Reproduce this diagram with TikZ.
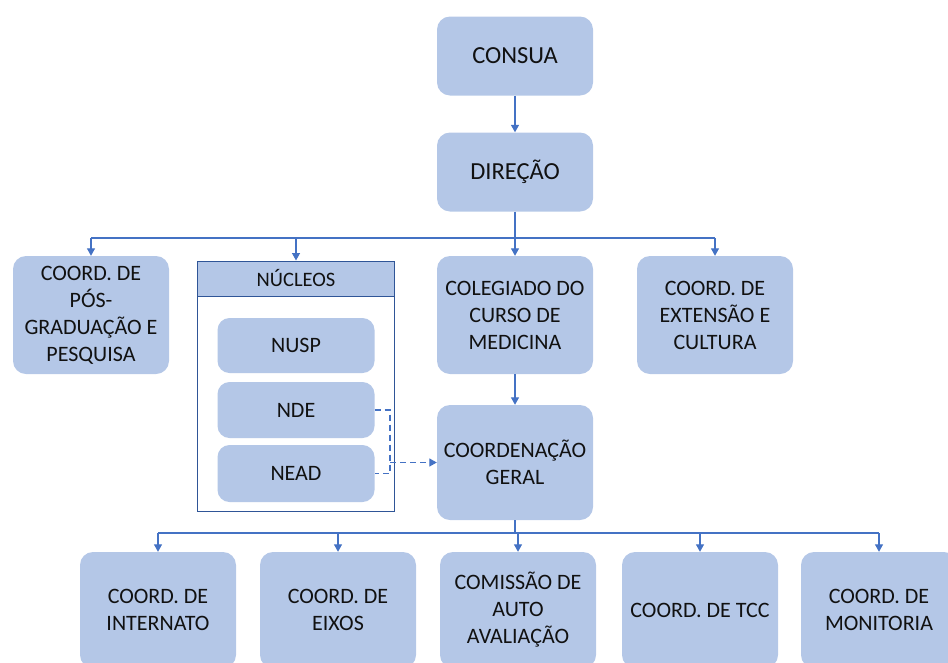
\documentclass[tikz,border=0pt]{standalone}
\usepackage{fontspec}
\setmainfont{Carlito}
\usetikzlibrary{arrows.meta}
\definecolor{boxfill}{HTML}{B4C7E7}
\definecolor{linecol}{HTML}{4472C4}
\definecolor{framecol}{HTML}{2F5597}
\definecolor{txt}{HTML}{111111}
\tikzset{
  orgbox/.style={rectangle, rounded corners=13pt, fill=boxfill, text=txt, align=center,
    inner sep=0pt, font=\fontsize{22}{27}\selectfont},
  link/.style={draw=linecol, line width=1.3pt, -{Triangle[width=8pt,length=7.5pt]}},
  bus/.style={draw=linecol, line width=1.3pt},
  dlink/.style={draw=linecol, line width=1.3pt, dash pattern=on 6pt off 4pt},
}
\begin{document}
\begin{tikzpicture}[x=1pt,y=-1pt]
\useasboundingbox (0,0) rectangle (948,662);
\clip (0,0) rectangle (948,662);
% top
\node[orgbox, minimum width=156pt, minimum height=79pt, font=\fontsize{24.5}{29}\selectfont] (consua) at (515,56) {CONSUA};
\node[orgbox, minimum width=156pt, minimum height=79pt, font=\fontsize{24.5}{29}\selectfont] (direcao) at (515,172) {DIREÇÃO};
% second row
\node[orgbox, minimum width=156pt, minimum height=118pt] (pos) at (91,315) {COORD. DE\\PÓS-\\GRADUAÇÃO E\\PESQUISA};
\node[orgbox, minimum width=156pt, minimum height=118pt] (coleg) at (515,315) {COLEGIADO DO\\CURSO DE\\MEDICINA};
\node[orgbox, minimum width=156pt, minimum height=118pt] (ext) at (715,315) {COORD. DE\\EXTENSÃO E\\CULTURA};
% nucleos frame
\node[draw=framecol, line width=1pt, fill=white, minimum width=197pt, minimum height=250pt, inner sep=0pt] (nucframe) at (296,386) {};
\node[draw=framecol, line width=1pt, fill=boxfill, minimum width=197pt, minimum height=35pt, inner sep=0pt, text=txt, font=\fontsize{20.5}{24}\selectfont, anchor=north] (nuchead) at (nucframe.north) {NÚCLEOS};
\node[orgbox, minimum width=157pt, minimum height=55pt, rounded corners=12pt] (nusp) at (296,345.5) {NUSP};
\node[orgbox, minimum width=157pt, minimum height=56pt, rounded corners=12pt] (nde) at (296,410) {NDE};
\node[orgbox, minimum width=157pt, minimum height=57pt, rounded corners=12pt] (nead) at (296,473.5) {NEAD};
% coordenacao geral
\node[orgbox, minimum width=156pt, minimum height=115pt] (geral) at (515,462.5) {COORDENAÇÃO\\GERAL};
% bottom row
\node[orgbox, minimum width=156pt, minimum height=116pt] (intern) at (158,610) {COORD. DE\\INTERNATO};
\node[orgbox, minimum width=156pt, minimum height=116pt] (eixos) at (338,610) {COORD. DE\\EIXOS};
\node[orgbox, minimum width=156pt, minimum height=116pt] (comis) at (518,610) {COMISSÃO DE\\AUTO\\AVALIAÇÃO};
\node[orgbox, minimum width=156pt, minimum height=116pt] (tcc) at (700,610) {COORD. DE TCC};
\node[orgbox, minimum width=156pt, minimum height=116pt] (monit) at (879,610) {COORD. DE\\MONITORIA};
% connectors
\draw[link] (consua) -- (direcao);
\coordinate (busA) at (515,238);
\draw[link] (direcao) -- (coleg);
\draw[bus] (pos.north |- busA) -- (ext.north |- busA);
\draw[link] (pos.north |- busA) -- (pos.north);
\draw[link] (nuchead.north |- busA) -- (nuchead.north);
\draw[link] (ext.north |- busA) -- (ext.north);
\draw[link] (coleg) -- (geral);
\coordinate (busB) at (515,533);
\draw[bus] (geral.south) -- (geral.south |- busB);
\draw[bus] (intern.north |- busB) -- (monit.north |- busB);
\foreach \n in {intern,eixos,comis,tcc,monit}{
  \draw[link] (\n.north |- busB) -- (\n.north);
}
% dashed
\coordinate (dj) at (390,462.5);
\draw[dlink] (nde.east) -| (dj |- nead.east) -- (nead.east);
\draw[dlink, -{Triangle[width=8pt,length=7.5pt]}] (dj) -- (geral.west);
\end{tikzpicture}
\end{document}
